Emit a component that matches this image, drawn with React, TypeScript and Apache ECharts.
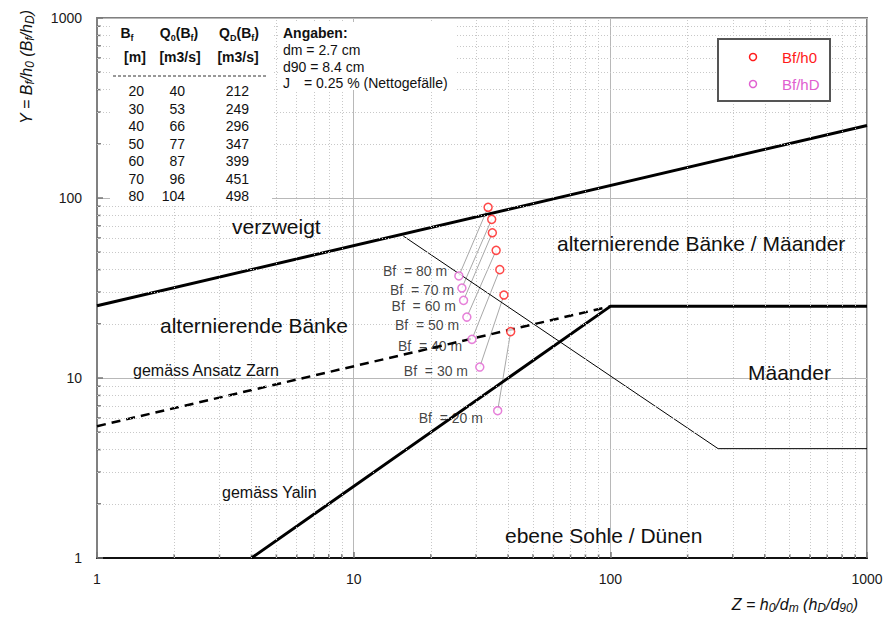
import React, { useEffect, useRef } from "react";
import * as echarts from "echarts";

// Measured points (Bf = 80 ... 20 m)
const bfWidths = [80, 70, 60, 50, 40, 30, 20];
const zH0 = [33.4, 34.5, 34.7, 35.9, 37.1, 38.5, 40.9];
const yH0 = [88.8, 76.1, 64.1, 51.2, 40.0, 28.9, 18.1];
const zHD = [25.7, 26.4, 26.8, 27.6, 28.9, 31.0, 36.4];
const yHD = [36.9, 31.6, 27.0, 21.8, 16.4, 11.5, 6.58];

// Boundary lines
const upperZ = [1, 1000];
const upperY = [25.2, 253];
const zarnZ = [1, 100];
const zarnY = [5.4, 25];
const yalinZ = [4, 100, 1000];
const yalinY = [1, 25, 25];
const thinZ = [15.6, 263, 1000];
const thinY = [61.5, 4.05, 4.05];

// Table
const tableBf = [20, 30, 40, 50, 60, 70, 80];
const tableQ0 = [40, 53, 66, 77, 87, 96, 104];
const tableQD = [212, 249, 296, 347, 399, 451, 498];

// Minor grid positions
const minorX = [2, 3, 4, 5, 6, 7, 8, 9, 20, 30, 40, 50, 60, 70, 80, 90, 200, 300, 400, 500, 600, 700, 800, 900];
const minorY = [2, 3, 4, 5, 6, 7, 8, 9, 20, 30, 40, 50, 60, 70, 80, 90, 200, 300, 400, 500, 600, 700, 800, 900];

const FONT = "'Liberation Sans', Arial, sans-serif";
const RED = "#ff1a1a";
const PINK = "#e060d0";

// label placement (pixel nudges, as in the hand-placed originals)
const LABEL_NUDGE: [number, number][] = [
  [-4, -5],
  [0, 2],
  [0, 6],
  [0, 8],
  [-2, 7],
  [-4, 4],
  [-7, 7],
];

const zip = (a: number[], b: number[]) => a.map((v, i) => [v, b[i]]);

export default function App() {
  const ref = useRef<HTMLDivElement>(null);
  useEffect(() => {
    document.body.style.margin = "0";
    const chart = echarts.init(ref.current!, null, { renderer: "svg" });

    const txt = (x: number, y: number, text: string, extra: any = {}) => ({
      type: "text",
      x,
      y,
      z: 100,
      style: {
        text,
        fill: "#111",
        fontFamily: FONT,
        fontSize: 14,
        align: "left",
        verticalAlign: "middle",
        ...extra,
      },
    });

    const rowY = (i: number) => 91 + i * 17.5;
    const tableTexts: any[] = [];
    tableBf.forEach((v, i) => {
      tableTexts.push(txt(144, rowY(i), String(v), { align: "right" }));
      tableTexts.push(txt(185, rowY(i), String(tableQ0[i]), { align: "right" }));
      tableTexts.push(txt(249, rowY(i), String(tableQD[i]), { align: "right" }));
    });

    const richHead = {
      b: { fontSize: 14, fontWeight: "bold", fontFamily: FONT, fill: "#111", lineHeight: 18, verticalAlign: "middle" },
      s: { fontSize: 9, fontWeight: "bold", fontFamily: FONT, fill: "#111", lineHeight: 9, verticalAlign: "bottom" },
    };
    const richAx = {
      n: { fontSize: 16, fontStyle: "italic", fontFamily: FONT, fill: "#111", lineHeight: 20, verticalAlign: "middle" },
      s: { fontSize: 12, fontStyle: "italic", fontFamily: FONT, fill: "#111", lineHeight: 10, verticalAlign: "bottom" },
    };

    const linkSeries = bfWidths.map((bf, i) => ({
      type: "line",
      name: "link" + bf,
      data: [
        [zH0[i], yH0[i]],
        [zHD[i], yHD[i]],
      ],
      symbol: "none",
      lineStyle: { color: "#a8a8a8", width: 1 },
      silent: true,
      z: 3,
    }));

    const option: any = {
      animation: false,
      grid: {
        left: 97,
        top: 18,
        right: 26,
        bottom: 61,
        show: true,
        borderColor: "#808080",
        borderWidth: 2,
      },
      xAxis: {
        type: "log",
        logBase: 10,
        min: 1,
        max: 1000,
        axisLine: { show: true, onZero: false, lineStyle: { color: "#111", width: 2 } },
        axisTick: { show: true, inside: true, length: 6, lineStyle: { color: "#777", width: 1.5 } },
        axisLabel: { fontSize: 14, color: "#1a1a1a", fontFamily: FONT, margin: 14, formatter: (v: number) => String(v) },
        splitLine: { show: true, lineStyle: { color: "#b8b8b8", width: 1 } },
      },
      yAxis: {
        type: "log",
        logBase: 10,
        min: 1,
        max: 1000,
        axisLine: { show: true, onZero: false, lineStyle: { color: "#808080", width: 2 } },
        axisTick: { show: true, inside: true, length: 6, lineStyle: { color: "#777", width: 1.5 } },
        axisLabel: { fontSize: 14, color: "#1a1a1a", fontFamily: FONT, margin: 15, formatter: (v: number) => String(v) },
        splitLine: { show: true, lineStyle: { color: "#b8b8b8", width: 1 } },
      },
      series: [
        {
          type: "line",
          name: "grid",
          data: [[1, 1]],
          symbol: "none",
          lineStyle: { opacity: 0 },
          silent: true,
          z: 0,
          markLine: {
            silent: true,
            symbol: ["none", "none"],
            label: { show: false },
            lineStyle: { color: "#c8c8c8", width: 1, type: [1, 2] },
            emphasis: { disabled: true },
            data: [...minorX.map((v) => ({ xAxis: v })), ...minorY.map((v) => ({ yAxis: v }))],
          },
        },
        {
          type: "scatter",
          name: "xticks",
          data: minorX.map((v) => [v, 1]),
          symbol: "rect",
          symbolSize: [1.5, 4],
          symbolOffset: [0, -2],
          itemStyle: { color: "#555" },
          clip: false,
          silent: true,
          z: 1,
        },
        {
          type: "scatter",
          name: "yticks",
          data: minorY.map((v) => [1, v]),
          symbol: "rect",
          symbolSize: [4, 1.5],
          symbolOffset: [2, 0],
          itemStyle: { color: "#555" },
          clip: false,
          silent: true,
          z: 1,
        },
        {
          type: "line",
          name: "upper",
          data: zip(upperZ, upperY),
          symbol: "none",
          lineStyle: { color: "#000", width: 3 },
          z: 4,
        },
        {
          type: "line",
          name: "Zarn",
          data: zip(zarnZ, zarnY),
          symbol: "none",
          lineStyle: { color: "#000", width: 2.5, type: [9, 6] },
          z: 4,
        },
        {
          type: "line",
          name: "Yalin",
          data: zip(yalinZ, yalinY),
          symbol: "none",
          lineStyle: { color: "#000", width: 3 },
          z: 4,
        },
        {
          type: "line",
          name: "thin",
          data: zip(thinZ, thinY),
          symbol: "none",
          lineStyle: { color: "#000", width: 1 },
          z: 4,
        },
        ...linkSeries,
        {
          type: "scatter",
          name: "Bf/h0",
          data: zip(zH0, yH0),
          symbol: "circle",
          symbolSize: 8,
          itemStyle: { color: "#fff", borderColor: RED, borderWidth: 1.5 },
          z: 6,
        },
        {
          type: "scatter",
          name: "Bf/hD",
          data: zip(zHD, yHD).map((p, i) => ({
            value: p,
            label: { offset: LABEL_NUDGE[i] },
          })),
          symbol: "circle",
          symbolSize: 8,
          itemStyle: { color: "#fff", borderColor: PINK, borderWidth: 1.5 },
          label: {
            show: true,
            position: "left",
            distance: 3,
            formatter: (p: any) => `Bf  = ${bfWidths[p.dataIndex]} m`,
            fontSize: 14,
            color: "#111",
            fontFamily: FONT,
          },
          z: 6,
        },
      ],
      graphic: [
        // table background
        { type: "rect", shape: { x: 110, y: 20, width: 162, height: 184 }, style: { fill: "#fff" }, z: 90 },
        { type: "rect", shape: { x: 280, y: 22, width: 176, height: 68 }, style: { fill: "#fff" }, z: 90 },
        {
          type: "text",
          x: 127,
          y: 33,
          z: 100,
          style: { text: "{b|B}{s|f}", rich: richHead, align: "center", verticalAlign: "middle" },
        },
        {
          type: "text",
          x: 179,
          y: 33,
          z: 100,
          style: { text: "{b|Q}{s|0}{b|(B}{s|f}{b|)}", rich: richHead, align: "center", verticalAlign: "middle" },
        },
        {
          type: "text",
          x: 239,
          y: 33,
          z: 100,
          style: { text: "{b|Q}{s|D}{b|(B}{s|f}{b|)}", rich: richHead, align: "center", verticalAlign: "middle" },
        },
        txt(135, 57, "[m]", { align: "center", fontWeight: "bold" }),
        txt(180, 57, "[m3/s]", { align: "center", fontWeight: "bold" }),
        txt(238, 57, "[m3/s]", { align: "center", fontWeight: "bold" }),
        {
          type: "line",
          z: 100,
          shape: { x1: 113, y1: 76, x2: 268, y2: 76 },
          style: { stroke: "#333", lineWidth: 1, lineDash: [3, 2] },
        },
        ...tableTexts,
        // Angaben
        txt(283, 33, "Angaben:", { fontWeight: "bold", fontSize: 14 }),
        txt(283, 50, "dm = 2.7 cm", { fontSize: 14 }),
        txt(283, 67, "d90 = 8.4 cm", { fontSize: 14 }),
        txt(283, 83, "J", { fontSize: 14 }),
        txt(304, 83, "= 0.25 % (Nettogefälle)", { fontSize: 14 }),
        // legend
        {
          type: "rect",
          z: 100,
          shape: { x: 718, y: 39, width: 112, height: 62 },
          style: { fill: "#fff", stroke: "#555", lineWidth: 2 },
        },
        { type: "circle", z: 101, shape: { cx: 753, cy: 57, r: 3.5 }, style: { fill: "#fff", stroke: RED, lineWidth: 1.5 } },
        { type: "circle", z: 101, shape: { cx: 753, cy: 84, r: 3.5 }, style: { fill: "#fff", stroke: PINK, lineWidth: 1.5 } },
        txt(782, 57, "Bf/h0", { fontSize: 15, fill: RED }),
        txt(782, 84, "Bf/hD", { fontSize: 15, fill: PINK }),
        // region annotations
        txt(232, 226, "verzweigt", { fontSize: 21 }),
        txt(557, 243, "alternierende Bänke / Mäander", { fontSize: 21 }),
        txt(160, 325, "alternierende Bänke", { fontSize: 21 }),
        txt(133, 370, "gemäss Ansatz Zarn", { fontSize: 16 }),
        txt(748, 372, "Mäander", { fontSize: 21 }),
        txt(222, 492, "gemäss Yalin", { fontSize: 16 }),
        txt(505, 535, "ebene Sohle / Dünen", { fontSize: 21 }),
        // axis titles
        {
          type: "text",
          x: 26,
          y: 67,
          rotation: Math.PI / 2,
          z: 100,
          style: {
            text: "{n|Y = B}{s|f}{n|/h}{s|0}{n| (B}{s|f}{n|/h}{s|D}{n|)}",
            rich: richAx,
            align: "center",
            verticalAlign: "middle",
          },
        },
        {
          type: "text",
          x: 858,
          y: 604,
          z: 100,
          style: {
            text: "{n|Z = h}{s|0}{n|/d}{s|m}{n| (h}{s|D}{n|/d}{s|90}{n|)}",
            rich: richAx,
            align: "right",
            verticalAlign: "middle",
          },
        },
      ],
    };
    chart.setOption(option);
    return () => chart.dispose();
  }, []);
  return <div ref={ref} style={{ position: "absolute", left: 0, top: 0, width: 893, height: 619 }} />;
}
